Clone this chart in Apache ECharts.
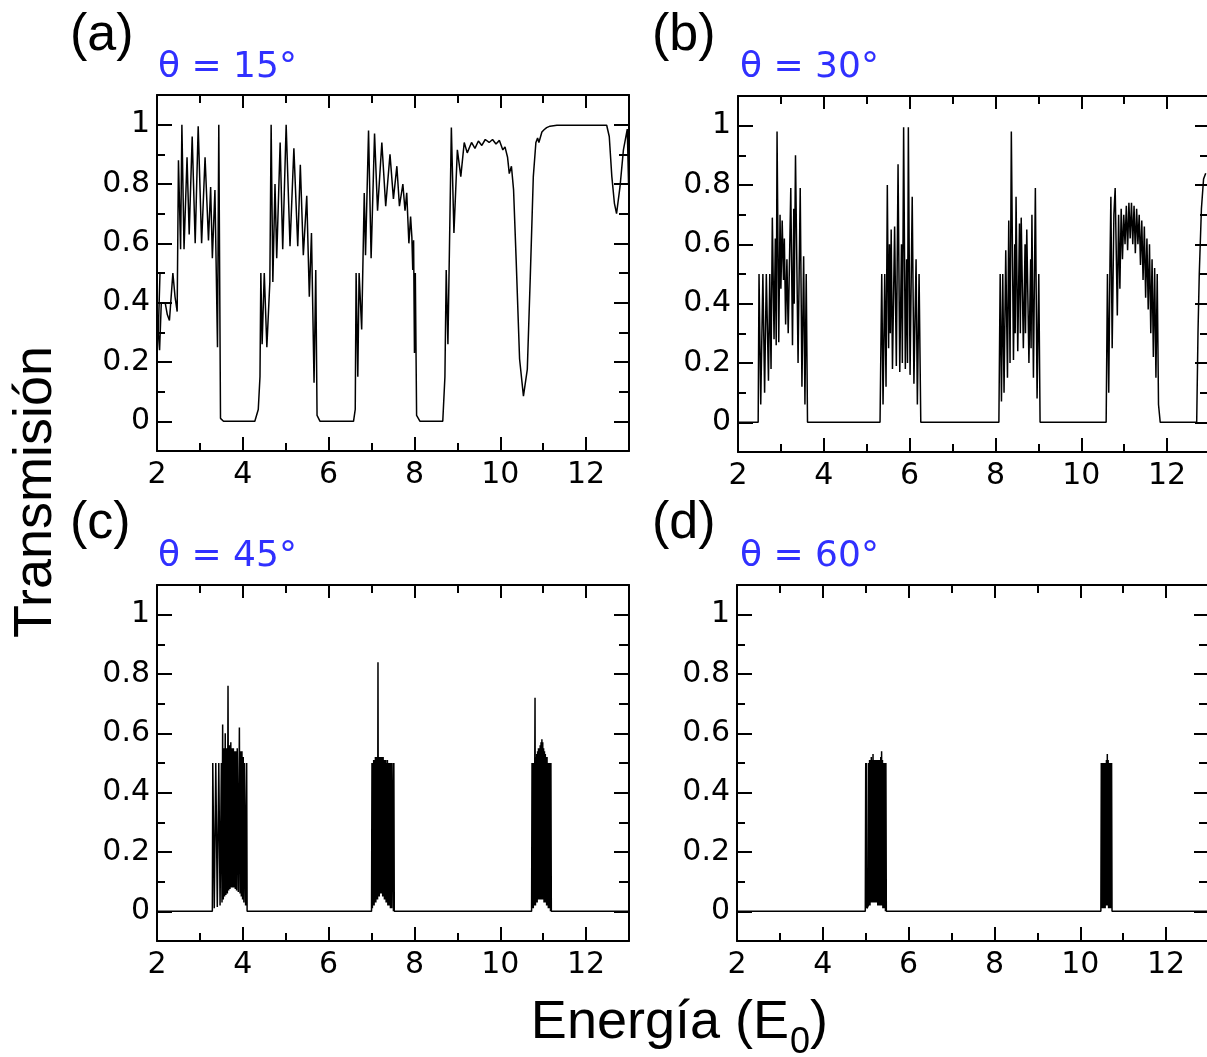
<!DOCTYPE html>
<html><head><meta charset="utf-8">
<script src="https://cdn.jsdelivr.net/npm/echarts@6/dist/echarts.min.js"></script>
<style>html,body{margin:0;padding:0;background:#fff}#c{width:1207px;height:1057px}</style>
</head><body><div id="c"></div>
<script>
// ---- data (Energía E0, Transmisión) ----
const curveA = [
[2.00,0.50],[2.07,0.50],[2.03,0.30],[2.06,0.24],[2.10,0.40],[2.00,0.40],[2.19,0.40],[2.24,0.36],[2.29,0.34],[2.37,0.50],[2.42,0.42],[2.47,0.37],
[2.50,0.88],[2.55,0.58],[2.58,1.00],[2.63,0.58],[2.70,0.89],[2.75,0.63],[2.82,0.96],[2.89,0.60],[2.96,0.995],[3.04,0.60],[3.12,0.89],[3.20,0.61],[3.25,0.79],[3.29,0.55],[3.35,0.78],[3.41,0.25],[3.44,1.00],[3.48,0.01],[3.55,0.00],
[4.28,0.00],[4.36,0.04],[4.40,0.15],[4.42,0.50],[4.45,0.26],[4.50,0.50],[4.56,0.25],[4.63,0.47],[4.66,1.00],[4.70,0.47],[4.75,0.80],[4.79,0.55],[4.87,0.94],[4.93,0.58],[5.01,1.00],[5.10,0.59],[5.19,0.92],[5.28,0.59],[5.34,0.865],[5.41,0.56],[5.49,0.76],[5.55,0.42],[5.60,0.635],[5.66,0.13],[5.70,0.51],[5.73,0.02],[5.80,0.00],
[6.58,0.00],[6.62,0.04],[6.64,0.50],[6.68,0.15],[6.71,0.50],[6.77,0.31],[6.83,0.77],[6.86,0.56],[6.93,0.98],[6.99,0.55],[7.07,0.97],[7.14,0.71],[7.24,0.94],[7.33,0.725],[7.43,0.90],[7.51,0.75],[7.59,0.86],[7.65,0.725],[7.73,0.80],[7.78,0.71],[7.82,0.77],[7.87,0.60],[7.91,0.69],[7.94,0.62],[7.96,0.51],[7.98,0.61],[8.00,0.23],[8.02,0.50],[8.05,0.02],[8.13,0.00],
[8.66,0.00],[8.71,0.15],[8.74,0.51],[8.78,0.26],[8.86,0.99],[8.92,0.635],[9.00,0.915],[9.08,0.825],[9.16,0.94],[9.23,0.905],[9.33,0.94],[9.41,0.92],[9.49,0.945],[9.57,0.93],[9.65,0.95],[9.74,0.94],[9.82,0.95],[9.90,0.935],[9.98,0.947],[10.06,0.915],[10.11,0.925],[10.17,0.89],[10.21,0.835],[10.26,0.86],[10.31,0.78],[10.37,0.545],[10.45,0.21],[10.54,0.085],[10.63,0.175],[10.70,0.49],[10.77,0.825],[10.83,0.94],[10.87,0.955],[10.90,0.94],[10.97,0.975],[11.02,0.983],[11.08,0.99],[11.16,0.995],[11.32,0.998],[12.48,0.998],[12.54,0.96],[12.60,0.825],[12.66,0.735],[12.71,0.70],[12.79,0.79],[12.87,0.915],[12.96,0.985],[12.99,0.80],[12.68,0.80]
];
const curveB = [
[2.00,0],[2.47,0],[2.49,0.50],[2.53,0.06],[2.58,0.50],[2.62,0.10],[2.66,0.50],[2.71,0.14],[2.74,0.50],[2.77,0.18],[2.80,0.69],[2.84,0.28],[2.87,0.62],[2.89,0.26],[2.91,0.98],[2.95,0.27],[2.98,0.70],[3.00,0.45],[3.03,0.68],[3.06,0.48],[3.08,0.62],[3.11,0.33],[3.14,0.55],[3.17,0.30],[3.23,0.79],[3.27,0.26],[3.30,0.72],[3.31,0.40],[3.34,0.90],[3.40,0.20],[3.45,0.79],[3.49,0.12],[3.53,0.56],[3.56,0.06],[3.59,0.50],[3.62,0],
[5.31,0],[5.35,0.50],[5.38,0.06],[5.42,0.50],[5.45,0.12],[5.48,0.80],[5.51,0.25],[5.53,0.60],[5.55,0.30],[5.57,0.65],[5.60,0.18],[5.65,0.66],[5.69,0.19],[5.73,0.87],[5.77,0.17],[5.81,0.60],[5.83,0.20],[5.86,0.995],[5.90,0.18],[5.93,0.55],[5.95,0.20],[5.97,0.995],[6.01,0.16],[6.06,0.76],[6.10,0.13],[6.15,0.55],[6.18,0.06],[6.22,0.50],[6.26,0],
[8.08,0],[8.11,0.50],[8.14,0.07],[8.17,0.50],[8.20,0.10],[8.24,0.58],[8.28,0.15],[8.31,0.68],[8.34,0.20],[8.37,0.98],[8.42,0.21],[8.45,0.60],[8.46,0.30],[8.48,0.76],[8.52,0.24],[8.56,0.67],[8.58,0.30],[8.60,0.69],[8.65,0.25],[8.69,0.60],[8.70,0.30],[8.73,0.65],[8.78,0.20],[8.82,0.55],[8.83,0.25],[8.85,0.70],[8.885,0.15],[8.93,0.79],[8.97,0.08],[9.01,0.50],[9.04,0],
[10.58,0],[10.61,0.50],[10.64,0.10],[10.67,0.55],[10.69,0.76],[10.72,0.25],[10.76,0.70],[10.79,0.79],[10.84,0.36],[10.87,0.70],[10.90,0.45],[10.93,0.72],[10.96,0.55],[10.99,0.70],[11.02,0.60],[11.05,0.73],[11.08,0.58],[11.11,0.74],[11.14,0.62],[11.17,0.74],[11.20,0.60],[11.23,0.73],[11.26,0.57],[11.29,0.72],[11.32,0.60],[11.35,0.70],[11.38,0.53],[11.41,0.68],[11.44,0.48],[11.47,0.66],[11.50,0.42],[11.53,0.62],[11.56,0.38],[11.59,0.60],[11.62,0.30],[11.65,0.55],[11.68,0.22],[11.71,0.52],[11.74,0.15],[11.77,0.50],[11.80,0.06],[11.84,0],
[12.69,0],[12.72,0.30],[12.75,0.50],[12.80,0.72],[12.85,0.82],[12.90,0.84]
];
const curveC = [
[2.00,0],[3.29,0],[3.30,0.50],[3.335,0.01],[3.37,0.50],[3.405,0.015],[3.44,0.50],[3.47,0.02],[3.50,0.50],[3.515,0.03],[3.53,0.63],[3.545,0.04],[3.56,0.55],[3.575,0.05],[3.59,0.60],[3.605,0.055],[3.62,0.55],[3.64,0.06],[3.655,0.76],[3.67,0.07],[3.685,0.56],[3.70,0.075],[3.72,0.57],[3.735,0.08],[3.75,0.55],[3.765,0.08],[3.78,0.55],[3.795,0.08],[3.81,0.54],[3.825,0.075],[3.84,0.54],[3.855,0.07],[3.87,0.55],[3.895,0.065],[3.92,0.62],[3.935,0.06],[3.95,0.54],[3.965,0.05],[3.98,0.54],[3.995,0.04],[4.01,0.52],[4.025,0.03],[4.04,0.50],[4.065,0.02],[4.09,0.50],[4.10,0],
[7.00,0],[7.01,0.50],[7.02,0.01],[7.03,0.50],[7.04,0.02],[7.05,0.51],[7.06,0.02],[7.07,0.51],[7.08,0.03],[7.09,0.52],[7.10,0.03],[7.11,0.52],[7.12,0.04],[7.13,0.52],[7.14,0.04],[7.15,0.84],[7.16,0.05],[7.17,0.52],[7.18,0.05],[7.19,0.52],[7.20,0.06],[7.21,0.52],[7.22,0.06],[7.23,0.52],[7.24,0.06],[7.25,0.52],[7.26,0.05],[7.27,0.52],[7.28,0.05],[7.29,0.51],[7.30,0.04],[7.31,0.51],[7.32,0.04],[7.33,0.51],[7.34,0.03],[7.35,0.50],[7.36,0.03],[7.37,0.51],[7.38,0.02],[7.40,0.50],[7.41,0.02],[7.43,0.50],[7.44,0.01],[7.46,0.50],[7.47,0.01],[7.50,0.50],[7.51,0],[7.52,0.50],[7.53,0],
[10.73,0],[10.74,0.50],[10.75,0.01],[10.76,0.50],[10.77,0.01],[10.78,0.50],[10.79,0.02],[10.81,0.72],[10.82,0.02],[10.83,0.52],[10.84,0.03],[10.85,0.53],[10.86,0.03],[10.87,0.54],[10.88,0.04],[10.89,0.55],[10.90,0.04],[10.91,0.55],[10.92,0.04],[10.93,0.56],[10.94,0.04],[10.95,0.57],[10.96,0.04],[10.97,0.58],[10.98,0.04],[10.99,0.57],[11.00,0.04],[11.01,0.55],[11.02,0.03],[11.03,0.54],[11.04,0.03],[11.05,0.53],[11.06,0.03],[11.07,0.52],[11.08,0.02],[11.09,0.52],[11.10,0.02],[11.11,0.50],[11.12,0.01],[11.13,0.50],[11.14,0.01],[11.16,0.50],[11.17,0],[11.18,0.50],[11.19,0],
[13.00,0]
];
const curveD = [
[2.00,0],[4.99,0],[5.00,0.50],[5.01,0.01],[5.02,0.50],[5.03,0.01],[5.06,0.02],[5.07,0.50],[5.08,0.02],[5.09,0.51],[5.10,0.02],[5.11,0.51],[5.12,0.03],[5.13,0.52],[5.14,0.03],[5.15,0.51],[5.16,0.03],[5.17,0.53],[5.18,0.03],[5.19,0.51],[5.20,0.03],[5.21,0.51],[5.22,0.03],[5.23,0.51],[5.24,0.03],[5.25,0.51],[5.26,0.03],[5.27,0.51],[5.28,0.02],[5.29,0.51],[5.30,0.02],[5.31,0.51],[5.32,0.02],[5.33,0.51],[5.34,0.02],[5.35,0.52],[5.36,0.02],[5.37,0.54],[5.38,0.02],[5.39,0.51],[5.40,0.01],[5.41,0.50],[5.42,0.01],[5.43,0.50],[5.44,0.01],[5.45,0.50],[5.46,0],[5.47,0.50],[5.48,0],
[10.48,0],[10.49,0.50],[10.50,0.01],[10.51,0.50],[10.52,0.01],[10.53,0.50],[10.54,0.01],[10.55,0.50],[10.56,0.01],[10.57,0.50],[10.58,0.01],[10.59,0.50],[10.60,0.02],[10.61,0.51],[10.62,0.02],[10.63,0.53],[10.64,0.02],[10.65,0.51],[10.66,0.01],[10.67,0.50],[10.68,0.01],[10.69,0.50],[10.70,0.01],[10.71,0.50],[10.72,0.01],[10.73,0.50],[10.74,0],
[13.00,0]
];
const panelTags = ['(a)','(b)','(c)','(d)'];
const angleTexts = ['θ = 15°','θ = 30°','θ = 45°','θ = 60°'];
const majorX = [2,4,6,8,10,12];
const minorX = [3,5,7,9,11];
const majorY = [0,0.2,0.4,0.6,0.8,1];
const minorY = [0.1,0.3,0.5,0.7,0.9];

// ---- layout ----
const grids = [
  {left:157, top:95, width:472, height:356, outerBoundsMode:'none', containLabel:false},
  {left:738, top:96, width:472, height:356, outerBoundsMode:'none', containLabel:false},
  {left:157, top:585, width:472, height:356, outerBoundsMode:'none', containLabel:false},
  {left:737, top:585, width:472, height:356, outerBoundsMode:'none', containLabel:false}
];
const curves = [curveA, curveB, curveC, curveD];
const tickFont = 'DejaVu Sans';
function mkX(gi, pos, vals, len, labels, line){
  return {gridIndex:gi, type:'value', position:pos, min:2, max:13,
    axisLine:{show:line, onZero:false, lineStyle:{color:'#000', width:2}},
    axisTick:{show:true, inside:true, length:len, customValues:vals, lineStyle:{color:'#000', width:2}},
    axisLabel:{show:labels, customValues:vals, color:'#000', fontSize:30, fontFamily:tickFont, margin:9},
    splitLine:{show:false}, minorTick:{show:false}};
}
function mkY(gi, pos, vals, len, labels, line){
  return {gridIndex:gi, type:'value', position:pos, min:-0.1, max:1.1,
    axisLine:{show:line, onZero:false, lineStyle:{color:'#000', width:2}},
    axisTick:{show:true, inside:true, length:len, customValues:vals, lineStyle:{color:'#000', width:2}},
    axisLabel:{show:labels, customValues:vals, color:'#000', fontSize:30, fontFamily:tickFont, margin:7,
      formatter:v => (v===0||v===1) ? String(v) : v.toFixed(1)},
    splitLine:{show:false}, minorTick:{show:false}};
}
const xAxis=[], yAxis=[], series=[];
grids.forEach((g,i)=>{
  const bx = xAxis.length;
  xAxis.push(mkX(i,'bottom',majorX,14,true,true));
  xAxis.push(mkX(i,'bottom',minorX,8,false,false));
  xAxis.push(mkX(i,'top',majorX,13,false,true));
  xAxis.push(mkX(i,'top',minorX,8,false,false));
  const by = yAxis.length;
  yAxis.push(mkY(i,'left',majorY,15,true,true));
  yAxis.push(mkY(i,'left',minorY,8,false,false));
  yAxis.push(mkY(i,'right',majorY,15,false,true));
  yAxis.push(mkY(i,'right',minorY,10,false,false));
  series.push({type:'line', xAxisIndex:bx, yAxisIndex:by, data:curves[i], showSymbol:false, symbol:'none',
    lineStyle:{color:'#000', width:1.5}, silent:true, animation:false, clip:true});
});

function txt(x, y, text, font, fill, align, extra){
  return Object.assign({type:'text', x:x, y:y, silent:true,
    style:{text:text, x:0, y:0, font:font, fill:fill, textAlign:align, align:align,
      textVerticalAlign:'middle', verticalAlign:'middle'}}, extra||{});
}
const tagPos = [[70,36],[652,36],[70,524],[652,524]];
const angPos = [[158,68],[740,68],[158,557],[740,557]];
const graphic = [];
tagPos.forEach((p,i)=>graphic.push(txt(p[0],p[1],panelTags[i],'52px "Liberation Sans"','#000','left')));
angPos.forEach((p,i)=>graphic.push(txt(p[0],p[1],angleTexts[i],'36px "DejaVu Sans"','#3030ff','left')));
graphic.push(txt(36,492,'Transmisión','54px "Liberation Sans"','#000','center',{rotation:Math.PI/2}));
graphic.push(txt(789,1023,'Energía (E','54px "Liberation Sans"','#000','right'));
graphic.push(txt(790,1043,'0','36px "Liberation Sans"','#000','left'));
graphic.push(txt(810,1023,')','54px "Liberation Sans"','#000','left'));

const chart = echarts.init(document.getElementById('c'), null, {renderer:'canvas'});
chart.setOption({animation:false, backgroundColor:'#fff', grid:grids, xAxis:xAxis, yAxis:yAxis, series:series, graphic:graphic});
</script></body></html>
